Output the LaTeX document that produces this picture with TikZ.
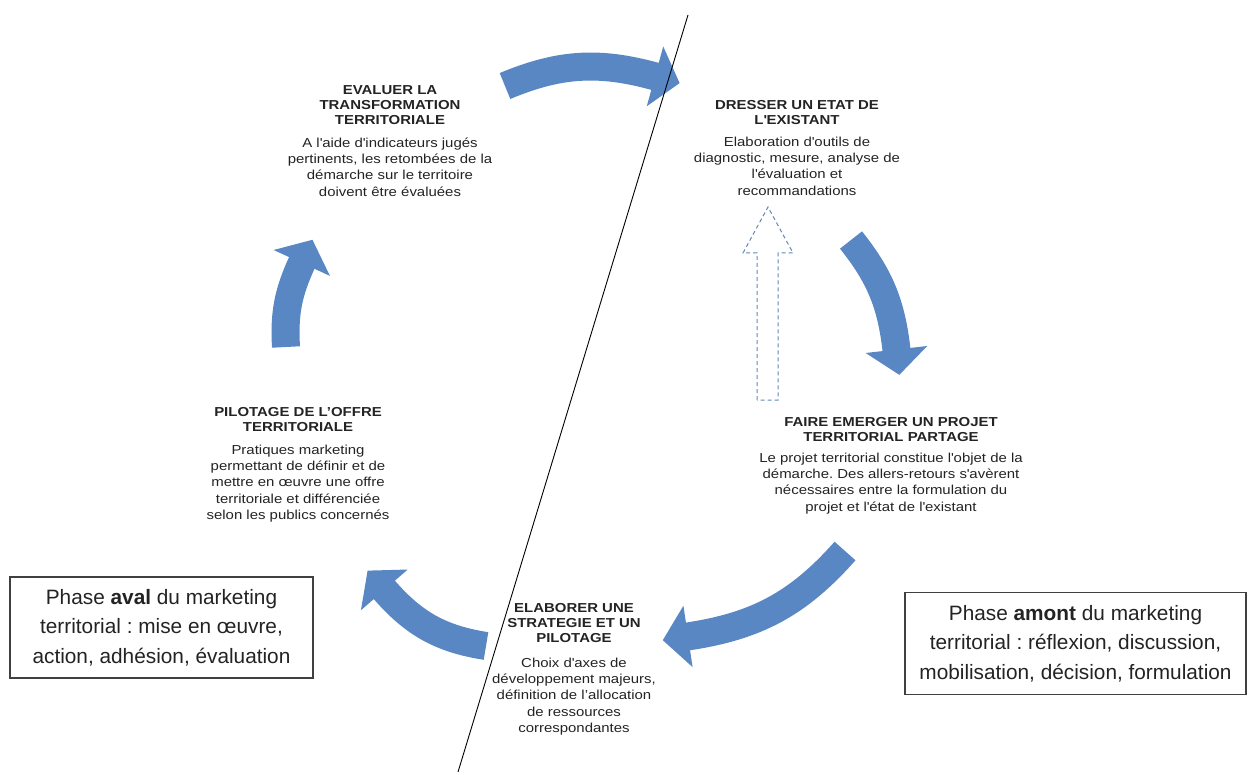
\documentclass[tikz,border=0pt]{standalone}
\usepackage{fontspec}
\setmainfont{Liberation Sans}[FakeStretch=1.15]
\newfontfamily\boxfont{Liberation Sans}
\usetikzlibrary{calc, positioning}
\definecolor{cycleblue}{RGB}{88,135,196}
\definecolor{dashblue}{RGB}{100,135,180}
\definecolor{txtgray}{RGB}{35,35,35}
\newcommand{\sq}{\textquotesingle}
\frenchspacing

\begin{document}
\begin{tikzpicture}[
    x=1pt, y=1pt,
    title/.style={anchor=north, align=center, inner sep=0pt, text=txtgray, font=\fontsize{13}{15}\selectfont\bfseries},
    desc/.style={anchor=north, align=center, inner sep=0pt, text=txtgray, font=\fontsize{13}{16.3}\selectfont},
    phase/.style={draw=black!75, line width=1.2pt, align=center, inner sep=0pt, text=txtgray, font=\boxfont\fontsize{20.8}{29.5}\selectfont},
    shaft/.style={draw=cycleblue, line width=28pt},
    back/.style={draw=dashblue, line width=1pt, dash pattern=on 4pt off 3pt}
]
\useasboundingbox (0,0) rectangle (1249,-775);

% Steps of the cycle
\node [title] (evaltitle) at (390,-85) {EVALUER LA\\TRANSFORMATION\\TERRITORIALE};
\node [desc, below=13pt of evaltitle] (evaldesc) {A l\sq aide d\sq indicateurs jugés\\pertinents, les retombées de la\\démarche sur le territoire\\doivent être évaluées};

\node [title] (etattitle) at (797,-100) {DRESSER UN ETAT DE\\L\sq EXISTANT};
\node [desc, below=12pt of etattitle] (etatdesc) {Elaboration d\sq outils de\\diagnostic, mesure, analyse de\\l\sq évaluation et\\recommandations};

\node [title] (projettitle) at (891,-417) {FAIRE EMERGER UN PROJET\\TERRITORIAL PARTAGE};
\node [desc, below=11pt of projettitle] (projetdesc) {Le projet territorial constitue l\sq objet de la\\démarche. Des allers-retours s\sq avèrent\\nécessaires entre la formulation du\\projet et l\sq état de l\sq existant};

\node [title] (strattitle) at (574,-603) {ELABORER UNE\\STRATEGIE ET UN\\PILOTAGE};
\node [desc, below=15pt of strattitle] (stratdesc) {Choix d\sq axes de\\développement majeurs,\\définition de l’allocation\\de ressources\\correspondantes};

\node [title] (offretitle) at (298,-407) {PILOTAGE DE L’OFFRE\\TERRITORIALE};
\node [desc, below=13pt of offretitle] (offredesc) {Pratiques marketing\\permettant de définir et de\\mettre en œuvre une offre\\territoriale et différenciée\\selon les publics concernés};

% Phases
\node [phase, minimum width=303pt, minimum height=101pt] (aval) at (161.5,-627.5) {Phase \textbf{aval} du marketing\\territorial : mise en œuvre,\\action, adhésion, évaluation};
\node [phase, minimum width=341pt, minimum height=102pt] (amont) at (1075.5,-643.5) {Phase \textbf{amont} du marketing\\territorial : réflexion, discussion,\\mobilisation, décision, formulation};

% Arrow tails and head bases
\coordinate (a1) at (505,-86);   \coordinate (c1) at (655.5,-76.5);
\coordinate (a2) at (851,-240);  \coordinate (c2) at (896.5,-350);
\coordinate (a3) at (845,-551);  \coordinate (c3) at (687.5,-636.5);
\coordinate (a4) at (486,-646);  \coordinate (c4) at (384,-589.5);
\coordinate (a5) at (286,-347);  \coordinate (c5) at (302,-262.5);
\coordinate (fb) at (767.5,-400);

% The cycle
\foreach \s/\e/\b in {a1/c1/19, a2/c2/16, a3/c3/20, a4/c4/20, a5/c5/14} {
  \draw [shaft] (\s) to[bend left=\b] (\e);
  \fill [cycleblue] let \p1=($(\e)-(\s)$), \n1={atan2(\y1,\x1)-\b} in
    ($(\e)+({\n1+90}:31)+({\n1}:-0.5)$) -- ($(\e)+({\n1}:25)$) -- ($(\e)+({\n1-90}:31)+({\n1}:-0.5)$) -- cycle;
}

% Back loop to the existing state
\draw [back] (fb) ++(-10.5,0) -- ++(0,147) -- ++(-14,0) -- ++(25,46) -- ++(25,-46) -- ++(-15,0) -- ++(0,-147) -- cycle;

% Divide between the two phases
\coordinate (divtop) at (688,-15);
\coordinate (divbot) at (458,-772);
\draw [line width=0.9pt] (divtop) -- (divbot);

\end{tikzpicture}
\end{document}
